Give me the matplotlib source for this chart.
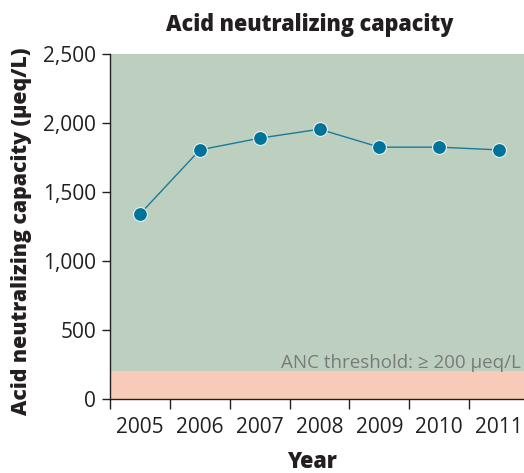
import matplotlib
matplotlib.use("Agg")
import matplotlib.pyplot as plt

years = ["2005", "2006", "2007", "2008", "2009", "2010", "2011"]
anc_values = [1340, 1805, 1890, 1955, 1825, 1825, 1805]
y_ticks = [0, 500, 1000, 1500, 2000, 2500]
y_tick_labels = ["0", "500", "1,000", "1,500", "2,000", "2,500"]
threshold = 200
threshold_label = "ANC threshold: \u2265 200 \u03bceq/L"

plt.rcParams["font.family"] = ["Open Sans", "DejaVu Sans"]
HEAVY = ["Open Sans", "DejaVu Sans"]
INK = "#231f20"

fig = plt.figure(figsize=(5.24, 4.73), dpi=100)
ax = fig.add_axes([110 / 524, 1 - 399 / 473, 419 / 524, 345 / 473])

n = len(years)
x = list(range(n))
ax.set_xlim(-0.5, n - 0.5)
ax.set_ylim(0, 2500)

# background bands: healthy range and below-threshold range
ax.axhspan(threshold, 2500, color="#bdd0c0", lw=0, zorder=0)
ax.axhspan(0, threshold, color="#f8cbb8", lw=0, zorder=0)

ax.plot(x, anc_values, color="#1a7a9c", lw=1.0, zorder=2)
ax.plot(x, anc_values, ls="none", marker="o", ms=10, mfc="#00739a",
        mec="#e8f0ec", mew=0.8, zorder=3)

ax.text(n - 0.5 - 0.13, threshold + 60, threshold_label, ha="right",
        va="center", fontsize=13.5, color="#7a7a7a")

for s in ("top", "right"):
    ax.spines[s].set_visible(False)
for s in ("left", "bottom"):
    ax.spines[s].set_color(INK)
    ax.spines[s].set_linewidth(1.0)

ax.set_yticks(y_ticks)
ax.set_yticklabels(y_tick_labels)
ax.set_xticks([i - 0.5 for i in range(n + 1)])
ax.set_xticklabels([])
ax.set_xticks(x, minor=True)
ax.set_xticklabels(years, minor=True)
ax.tick_params(axis="x", which="major", length=7, width=1.0, color=INK)
ax.tick_params(axis="x", which="minor", length=0, pad=13,
               labelsize=15, labelcolor=INK)
ax.tick_params(axis="y", length=6, width=1.0, color=INK, pad=4,
               labelsize=15, labelcolor=INK)

fig.text(310 / 524, 1 - 25 / 473, "Acid neutralizing capacity",
         ha="center", va="center", fontsize=15.5, fontweight=800,
         family=HEAVY, color=INK)
fig.text(312 / 524, 1 - 462 / 473, "Year", ha="center", va="center",
         fontsize=15.5, fontweight=800, family=HEAVY, color=INK)
fig.text(22 / 524, 1 - 231 / 473, "Acid neutralizing capacity (\u03bceq/L)",
         ha="center", va="center", rotation=90, fontsize=15.3,
         fontweight=800, family=HEAVY, color=INK)

fig.savefig("out.png", dpi=100)
